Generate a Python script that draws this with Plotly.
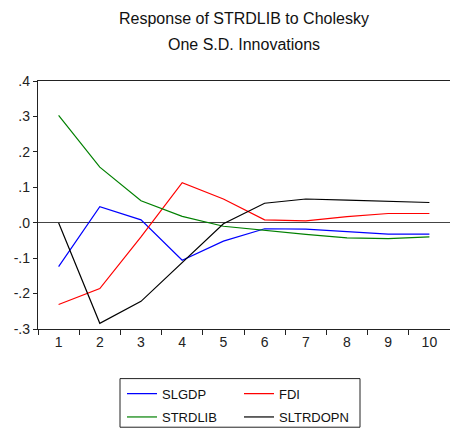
import plotly.graph_objects as go

periods = ["1", "2", "3", "4", "5", "6", "7", "8", "9", "10"]
slgdp = [-0.124, 0.045, 0.008, -0.106, -0.052, -0.017, -0.018, -0.026, -0.032, -0.032]
fdi = [-0.231, -0.186, -0.040, 0.113, 0.067, 0.008, 0.005, 0.017, 0.026, 0.026]
strdlib = [0.303, 0.157, 0.062, 0.018, -0.010, -0.022, -0.033, -0.043, -0.045, -0.040]
sltrdopn = [0.0, -0.284, -0.222, -0.112, -0.003, 0.055, 0.067, 0.064, 0.061, 0.057]

series = [
    ("SLGDP", slgdp, "#0000FF", "legend"),
    ("FDI", fdi, "#FF0000", "legend"),
    ("STRDLIB", strdlib, "#008000", "legend2"),
    ("SLTRDOPN", sltrdopn, "#000000", "legend2"),
]

y_ticks = [-0.3, -0.2, -0.1, 0.0, 0.1, 0.2, 0.3, 0.4]
y_labels = ["-.3", "-.2", "-.1", ".0", ".1", ".2", ".3", ".4"]
title_lines = ["Response of STRDLIB to Cholesky", "One S.D. Innovations"]

fig = go.Figure()
for name, vals, col, lg in series:
    fig.add_trace(go.Scatter(x=periods, y=vals, name=name, mode="lines",
                             line=dict(color=col, width=1.2), legend=lg))

font = "Liberation Sans, Arial, sans-serif"
L, T, B, W, H = 38, 81, 101, 450, 432
plot_w = W - L
plot_h = H - T - B


def px_x(px):
    return (px - L) / plot_w


def px_y(py):
    return (H - B - py) / plot_h


for i, txt in enumerate(title_lines):
    yc = 18 + 26 * i
    fig.add_annotation(text=txt, xref="paper", yref="paper", x=0.5,
                       y=px_y(yc), xanchor="center", yanchor="middle",
                       showarrow=False, font=dict(size=16, family=font, color="#111"))

# legend frame
fig.add_shape(type="rect", xref="paper", yref="paper",
              x0=px_x(120), x1=px_x(360), y0=px_y(430), y1=px_y(381),
              line=dict(color="#222", width=1), fillcolor="rgba(0,0,0,0)")

leg_common = dict(orientation="h", xanchor="left", yanchor="top",
                  entrywidth=72, entrywidthmode="pixels", borderwidth=0,
                  bgcolor="rgba(0,0,0,0)",
                  font=dict(size=13, family=font, color="#111"), tracegroupgap=0)

fig.update_layout(
    width=W, height=H,
    margin=dict(l=L, r=0, t=T, b=B),
    paper_bgcolor="white", plot_bgcolor="white",
    font=dict(family=font, size=14, color="#222"),
    showlegend=True,
    legend=dict(x=px_x(122), y=px_y(381), **leg_common),
    legend2=dict(x=px_x(122), y=px_y(405), **leg_common),
    xaxis=dict(type="category", range=[-0.5, 9.5], tickson="boundaries",
               ticks="outside", ticklen=5,
               tickcolor="#222", showline=True, linecolor="#222", linewidth=1.3,
               mirror=True, showgrid=False, tickfont=dict(size=14)),
    yaxis=dict(range=[-0.3, 0.4], tickvals=y_ticks, ticktext=y_labels,
               ticks="outside", ticklen=4, tickcolor="#222", showline=True,
               linecolor="#222", linewidth=1.3, mirror=False, showgrid=False,
               zeroline=True, zerolinecolor="#444", zerolinewidth=1,
               tickfont=dict(size=14)),
)

fig.write_html("out.html")
